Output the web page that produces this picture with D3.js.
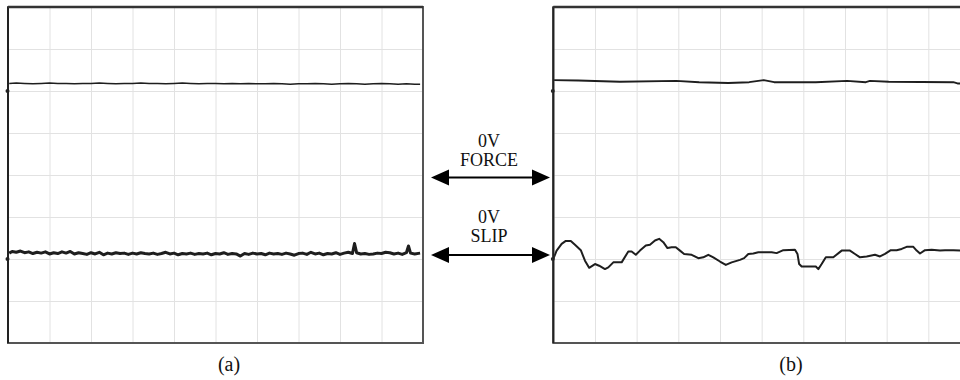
<!DOCTYPE html>
<html>
<head>
<meta charset="utf-8">
<script src="https://cdn.jsdelivr.net/npm/d3@7"></script>
<style>
  body { margin: 0; background: #fff; }
  .grid line { stroke: #e2e2e2; stroke-width: 1; }
  .grid path, .grid text { display: none; }
  .lbl { font-family: "Liberation Serif", "Times New Roman", serif; fill: #111; }
</style>
</head>
<body>
<svg id="scope" width="960" height="380"></svg>
<script>
// Two scope captures, values in divisions (10 x 8 graticule)

// graticule
var xDivs = [0, 1, 2, 3, 4, 5, 6, 7, 8, 9, 10];
var yDivs = [0, 1, 2, 3, 4, 5, 6, 7, 8];
// channel zero levels (divisions from bottom)
var forceZero = 6;
var slipZero = 2;

// (a) force trace, offset from its 0V level
var forceTimeA = [0.03, 0.2, 0.4, 0.6, 0.8, 1.0, 1.2, 1.4, 1.6, 1.8, 2.0, 2.2, 2.4, 2.6, 2.8, 3.0, 3.2, 3.4, 3.6, 3.8,
  4.0, 4.2, 4.4, 4.6, 4.8, 5.0, 5.2, 5.4, 5.6, 5.8, 6.0, 6.2, 6.4, 6.6, 6.8, 7.0, 7.2, 7.4, 7.6, 7.8,
  8.0, 8.2, 8.4, 8.6, 8.8, 9.0, 9.2, 9.4, 9.6, 9.8, 9.93];
var forceA = [0.18, 0.19, 0.18, 0.17, 0.18, 0.19, 0.18, 0.18, 0.17, 0.18, 0.18, 0.19, 0.18, 0.17, 0.18, 0.18, 0.19, 0.18, 0.18, 0.17,
  0.18, 0.19, 0.18, 0.17, 0.18, 0.18, 0.17, 0.18, 0.17, 0.18, 0.17, 0.17, 0.18, 0.17, 0.16, 0.17, 0.17, 0.18, 0.17, 0.16,
  0.17, 0.18, 0.17, 0.16, 0.17, 0.18, 0.17, 0.16, 0.17, 0.16, 0.16];

// (a) slip trace
var slipTimeA = [0.03, 0.1, 0.2, 0.3, 0.4, 0.5, 0.6, 0.7, 0.8, 0.9, 1.0, 1.1, 1.2, 1.3, 1.4, 1.5, 1.6, 1.7, 1.8, 1.9,
  2.0, 2.1, 2.2, 2.3, 2.4, 2.5, 2.6, 2.7, 2.8, 2.9, 3.0, 3.1, 3.2, 3.3, 3.4, 3.5, 3.6, 3.7, 3.8, 3.9,
  4.0, 4.1, 4.2, 4.3, 4.4, 4.5, 4.6, 4.7, 4.8, 4.9, 5.0, 5.1, 5.2, 5.3, 5.4, 5.5, 5.6, 5.7, 5.8, 5.9,
  6.0, 6.1, 6.2, 6.3, 6.4, 6.5, 6.6, 6.7, 6.8, 6.9, 7.0, 7.1, 7.2, 7.3, 7.4, 7.5, 7.6, 7.7, 7.8, 7.9,
  8.0, 8.1, 8.2, 8.3, 8.35, 8.4, 8.5, 8.6, 8.7, 8.8, 8.9, 9.0, 9.1, 9.2, 9.3, 9.4, 9.5, 9.6, 9.65, 9.7,
  9.8, 9.93];
var slipA = [0.14, 0.18, 0.16, 0.19, 0.15, 0.17, 0.13, 0.16, 0.14, 0.17, 0.12, 0.15, 0.13, 0.17, 0.14, 0.18, 0.12, 0.15, 0.13, 0.11,
  0.15, 0.12, 0.16, 0.10, 0.14, 0.12, 0.15, 0.13, 0.14, 0.11, 0.14, 0.12, 0.15, 0.13, 0.12, 0.14, 0.11, 0.13, 0.16, 0.12,
  0.14, 0.10, 0.13, 0.12, 0.14, 0.11, 0.13, 0.12, 0.14, 0.10, 0.13, 0.12, 0.15, 0.11, 0.13, 0.12, 0.07, 0.13, 0.11, 0.14,
  0.12, 0.13, 0.10, 0.14, 0.12, 0.13, 0.11, 0.14, 0.12, 0.09, 0.13, 0.14, 0.11, 0.16, 0.12, 0.14, 0.10, 0.13, 0.12, 0.15,
  0.11, 0.14, 0.16, 0.13, 0.37, 0.15, 0.12, 0.13, 0.11, 0.12, 0.14, 0.13, 0.16, 0.15, 0.12, 0.14, 0.11, 0.15, 0.31, 0.14,
  0.12, 0.14];

// (b) force trace
var forceTimeB = [0.0, 0.6, 1.6, 2.95, 3.5, 4.2, 4.7, 5.05, 5.3, 6.3, 7.05, 7.5, 7.6, 8.05, 9.6, 9.7, 10.0];
var forceB = [0.26, 0.25, 0.22, 0.24, 0.21, 0.19, 0.21, 0.26, 0.21, 0.21, 0.24, 0.21, 0.24, 0.22, 0.21, 0.18, 0.18];

// (b) slip trace
var slipTimeB = [0.0, 0.08, 0.2, 0.3, 0.42, 0.52, 0.66, 0.76, 0.86, 1.0, 1.1, 1.24, 1.32, 1.44, 1.64, 1.8, 1.88, 1.98, 2.08, 2.22,
  2.32, 2.44, 2.54, 2.64, 2.74, 2.84, 2.94, 3.04, 3.14, 3.32, 3.48, 3.6, 3.72, 3.84, 4.0, 4.14, 4.28, 4.48, 4.58, 4.68,
  4.8, 4.92, 5.24, 5.36, 5.52, 5.8, 5.86, 5.9, 5.96, 6.3, 6.36, 6.44, 6.54, 6.72, 6.92, 7.12, 7.24, 7.36, 7.52, 7.72,
  7.84, 7.96, 8.1, 8.24, 8.36, 8.48, 8.64, 8.72, 8.8, 8.92, 9.08, 9.28, 9.4, 9.6, 9.76, 10.0];
var slipB = [0.00, 0.20, 0.36, 0.43, 0.43, 0.34, 0.21, -0.04, -0.21, -0.12, -0.16, -0.24, -0.20, -0.08, -0.08, 0.18, 0.18, 0.10, 0.20, 0.32,
  0.34, 0.44, 0.48, 0.40, 0.26, 0.28, 0.28, 0.20, 0.12, 0.10, 0.02, 0.04, 0.10, 0.04, -0.06, -0.14, -0.08, -0.02, 0.02, 0.12,
  0.13, 0.16, 0.16, 0.14, 0.21, 0.22, 0.12, -0.12, -0.18, -0.18, -0.24, -0.12, 0.04, 0.04, 0.20, 0.20, 0.12, 0.04, 0.06, 0.10,
  0.06, 0.12, 0.21, 0.21, 0.24, 0.29, 0.29, 0.20, 0.13, 0.21, 0.22, 0.20, 0.21, 0.21, 0.20, 0.20];

var svg = d3.select('#scope');
svg.append('rect').attr('width', 960).attr('height', 380).attr('fill', '#fff');

var plotTop = 7, plotBottom = 343;

var panels = [
  { left: 8, right: 423, label: '(a)', labelX: 229,
    traces: [[forceTimeA, forceA, forceZero, 1.5], [slipTimeA, slipA, slipZero, 3]] },
  { left: 553.3, right: 970, label: '(b)', labelX: 791,
    traces: [[forceTimeB, forceB, forceZero, 1.9], [slipTimeB, slipB, slipZero, 2]] }
];

panels.forEach(function(p) {
  var x = d3.scaleLinear().domain([0, 10]).range([p.left, p.right]);
  var y = d3.scaleLinear().domain([0, 8]).range([plotBottom, plotTop]);
  var g = svg.append('g');

  // graticule
  g.append('g')
    .attr('class', 'grid')
    .attr('transform', 'translate(0,' + plotBottom + ')')
    .call(d3.axisBottom(x).tickValues(xDivs).tickSize(-(plotBottom - plotTop)));
  g.append('g')
    .attr('class', 'grid')
    .attr('transform', 'translate(' + p.left + ',0)')
    .call(d3.axisLeft(y).tickValues(yDivs).tickSize(-(p.right - p.left)));

  // traces
  p.traces.forEach(function(tr) {
    var pts = tr[0].map(function(t, i) { return [t, tr[1][i] + tr[2]]; });
    var line = d3.line()
      .x(function(d) { return x(d[0]); })
      .y(function(d) { return y(d[1]); });
    g.append('path')
      .datum(pts)
      .attr('d', line)
      .attr('fill', 'none')
      .attr('stroke', '#1e1e1e')
      .attr('stroke-width', tr[3])
      .attr('stroke-linejoin', 'round');
    // zero marker on left edge
    g.append('circle')
      .attr('cx', p.left - 0.5)
      .attr('cy', y(tr[2]))
      .attr('r', 2)
      .attr('fill', '#222');
  });

  // frame
  g.append('rect')
    .attr('x', p.left).attr('y', plotTop)
    .attr('width', p.right - p.left).attr('height', plotBottom - plotTop)
    .attr('fill', 'none')
    .attr('stroke', '#555')
    .attr('stroke-width', 2);
  g.append('line')
    .attr('x1', p.left).attr('x2', p.left)
    .attr('y1', plotTop).attr('y2', plotBottom)
    .attr('stroke', '#222')
    .attr('stroke-width', 2);
  g.append('line')
    .attr('x1', p.left).attr('x2', p.right)
    .attr('y1', plotTop).attr('y2', plotTop)
    .attr('stroke', '#333')
    .attr('stroke-width', 2.5);

  g.append('text')
    .attr('class', 'lbl')
    .attr('x', p.labelX)
    .attr('y', 371)
    .attr('text-anchor', 'middle')
    .style('font-size', '20px')
    .text(p.label);
});

// 0V annotations between the panels
var notes = [
  { top: '0V', name: 'FORCE', y: 141, arrowY: 177.5 },
  { top: '0V', name: 'SLIP', y: 216.5, arrowY: 255 }
];
var ann = svg.append('g');
notes.forEach(function(n) {
  ann.append('text').attr('class', 'lbl')
    .attr('x', 489).attr('y', n.y + 6)
    .attr('text-anchor', 'middle')
    .style('font-size', '18px')
    .text(n.top);
  ann.append('text').attr('class', 'lbl')
    .attr('x', 489).attr('y', n.y + 25)
    .attr('text-anchor', 'middle')
    .style('font-size', '18px')
    .text(n.name);
  ann.append('line')
    .attr('x1', 445).attr('x2', 535)
    .attr('y1', n.arrowY).attr('y2', n.arrowY)
    .attr('stroke', '#000').attr('stroke-width', 2);
  ann.append('path')
    .attr('d', 'M431,' + n.arrowY + 'L449,' + (n.arrowY - 8) + 'L449,' + (n.arrowY + 8) + 'Z')
    .attr('fill', '#000');
  ann.append('path')
    .attr('d', 'M550,' + n.arrowY + 'L532,' + (n.arrowY - 8) + 'L532,' + (n.arrowY + 8) + 'Z')
    .attr('fill', '#000');
});
</script>
</body>
</html>
